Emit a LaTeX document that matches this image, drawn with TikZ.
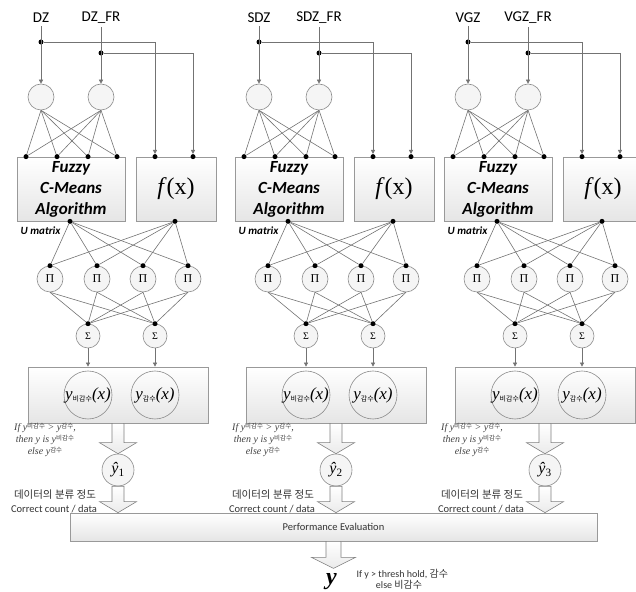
\documentclass[tikz,border=0pt]{standalone}
\usepackage{fontspec}
\setmainfont{Liberation Serif}
\setsansfont{Carlito}
\newfontfamily\kr{Noto Sans CJK KR}
\usetikzlibrary{calc,arrows.meta}

% hollow block arrow: from, to, half shaft, half head
\newcommand\fatarrow[4]{%
	\draw[fatarr] ($(#1)+(-#3,0)$) -- ($(#2)+(-#3,11)$) -- ($(#2)+(-#4,11)$)
		-- (#2) -- ($(#2)+(#4,11)$) -- ($(#2)+(#3,11)$) -- ($(#1)+(#3,0)$) -- cycle;}
% small raised korean index
\newcommand\kidx[1]{\raisebox{1.5pt}{\kr\fontsize{6.5}{6.5}\selectfont #1}}

\begin{document}
\begin{tikzpicture}[
			x=1pt, y=1pt,
			conn/.style={draw=black!55,line width=0.6pt},
			arr/.style={conn,-{Triangle[length=4pt,width=4pt]}},
			dot/.style={circle,fill=black,inner sep=0pt,minimum size=5pt},
			unit/.style={circle,draw=black!45,fill=black!4,inner sep=0pt,line width=0.6pt},
			box/.style={draw=black!40,top color=white,bottom color=black!10,inner sep=0pt,line width=0.7pt},
			fatarr/.style={draw=black!50,top color=white,bottom color=black!8,line width=0.6pt},
			lbl/.style={font=\sffamily\fontsize{15}{18}\selectfont},
			note/.style={font=\itshape\fontsize{10}{12}\selectfont,align=center,text=black!75},
			small/.style={font=\sffamily\fontsize{10.5}{12}\selectfont,text=black!80}
		]
		\useasboundingbox (0,0) rectangle (636,591);

		\node [box,minimum width=527pt,minimum height=28pt,small] (perf) at (333.5,64) {Performance Evaluation};

		\foreach \c/\ox/\na/\nb in {1/0/DZ/DZ\_FR,2/218/SDZ/SDZ\_FR,3/427/VGZ/VGZ\_FR}{
			% inputs
			\node [lbl] (la-\c) at (41+\ox,573) {\na};
			\node [lbl] (lb-\c) at (101+\ox,573) {\nb};
			\node [unit,minimum size=26pt] (in1-\c) at (41+\ox,494) {};
			\node [unit,minimum size=26pt] (in2-\c) at ([shift=({0:60})]in1-\c) {};

			\node [box,minimum width=108pt,minimum height=64pt,align=center,
				font=\sffamily\bfseries\itshape\fontsize{17}{21}\selectfont] (fcm-\c) at (71+\ox,402) {Fuzzy\\C-Means\\Algorithm};
			\node [box,minimum width=80pt,minimum height=64pt,font=\fontsize{24}{24}\selectfont] (fx-\c) at ([shift=({0:105})]fcm-\c) {\textit{f}(x)};

			\node [dot] (da-\c) at (41+\ox,549) {};
			\node [dot] (db-\c) at (101+\ox,538) {};
			\foreach \k/\dx in {1/-45,2/-14,3/17,4/46}
				\node [dot] (t\k-\c) at ([xshift=\dx]fcm-\c.north) {};
			\node [dot] (fa-\c) at ([xshift=-21]fx-\c.north) {};
			\node [dot] (fb-\c) at ([xshift=17]fx-\c.north) {};
			\node [dot] (fo-\c) at ([xshift=-1]fcm-\c.south) {};
			\node [dot] (xo-\c) at ([xshift=-1]fx-\c.south) {};
			\node [anchor=east,font=\sffamily\bfseries\itshape\fontsize{11}{11}\selectfont] (um-\c) at ([shift=({-6,-9})]fo-\c) {U matrix};

			% product and sum layers
			\foreach \k/\px in {1/50,2/97,3/143,4/188}{
				\node [unit,minimum size=26pt,font=\fontsize{12}{12}\selectfont] (p\k-\c) at (\px+\ox,312) {Π};
				\node [dot] (pd\k-\c) at (p\k-\c.north) {};
			}
			\node [unit,minimum size=24pt,font=\fontsize{10}{10}\selectfont] (s1-\c) at (88+\ox,255) {Σ};
			\node [unit,minimum size=24pt,font=\fontsize{10}{10}\selectfont] (s2-\c) at ([shift=({0:67})]s1-\c) {Σ};
			\node [dot] (sd1-\c) at (s1-\c.north) {};
			\node [dot] (sd2-\c) at (s2-\c.north) {};

			% outputs
			\node [box,minimum width=180pt,minimum height=56pt] (yb-\c) at (118+\ox,196) {};
			\node [circle,draw=black!45,line width=0.6pt,minimum size=48pt,inner sep=0pt,
				label=center:{\fontsize{17}{17}\selectfont\textit{y}\raisebox{-2pt}{\kr\fontsize{7}{7}\selectfont 비감수}\textit{(x)}}] (y1-\c) at (88+\ox,196) {};
			\node [circle,draw=black!45,line width=0.6pt,minimum size=48pt,inner sep=0pt,
				label=center:{\fontsize{17}{17}\selectfont\textit{y}\raisebox{-2pt}{\kr\fontsize{7}{7}\selectfont 감수}\textit{(x)}}] (y2-\c) at ([shift=({0:67})]y1-\c) {};
			\node [note] (cond-\c) at (45+\ox,151) {If y\kidx{비감수} > y\kidx{감수},\\then y is y\kidx{비감수}\\else y\kidx{감수}};
			\node [unit,minimum size=32pt,font=\fontsize{16}{16}\selectfont] (yh-\c) at (118+\ox,121) {\textit{ŷ}\textsubscript{\c}};
			\coordinate (pt-\c) at (yh-\c.south |- perf.north);
			\node [font=\kr\fontsize{10.5}{12}\selectfont,text=black!80] (acc-\c) at (55+\ox,96) {데이터의 분류 정도};
			\node [small] (cc-\c) at (54+\ox,82) {Correct count / data};

			\draw[arr] (la-\c) -- (in1-\c);
			\draw[arr] (lb-\c) -- (in2-\c);
			\draw[arr] (da-\c) -| (fa-\c);
			\draw[arr] (db-\c) -| (fb-\c);
			\foreach \k in {1,...,4}{
				\draw[conn] (in1-\c.south) -- (t\k-\c);
				\draw[conn] (in2-\c.south) -- (t\k-\c);
				\draw[conn] (fo-\c) -- (pd\k-\c);
				\draw[conn] (xo-\c) -- (pd\k-\c);
				\draw[conn] (p\k-\c.south) -- (sd1-\c);
				\draw[conn] (p\k-\c.south) -- (sd2-\c);
			}
			\draw[arr] (s1-\c) -- (s1-\c |- yb-\c.north);
			\draw[arr] (s2-\c) -- (s2-\c |- yb-\c.north);
			\fatarrow{yb-\c.south}{yh-\c.north}{6}{18.5}
			\fatarrow{yh-\c.south}{pt-\c}{6}{18.5}
		}

		\coordinate (yt) at ([yshift=-27]perf.south);
		\fatarrow{perf.south}{yt}{7.5}{22}
		\node [anchor=north,font=\bfseries\itshape\fontsize{24}{24}\selectfont] (yout) at ([shift=({-2,-2})]yt) {y};
		\node [anchor=west,small,font=\sffamily\fontsize{10}{12}\selectfont] (rule) at (353,17) {If y > thresh hold, {\kr 감수}};
		\node [small,font=\sffamily\fontsize{10}{12}\selectfont] (rule2) at (399,6) {else {\kr 비감수}};
	\end{tikzpicture}
\end{document}
